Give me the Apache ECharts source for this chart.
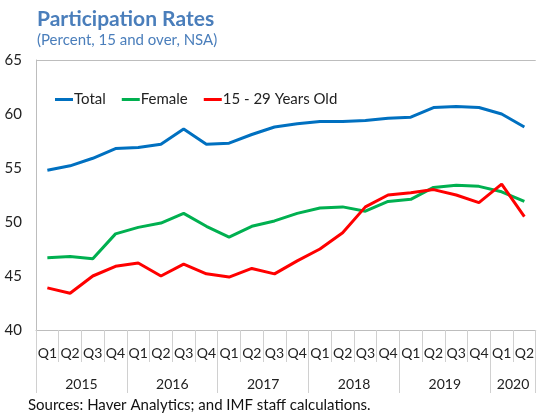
<!DOCTYPE html>
<html><head><meta charset="utf-8">
<script src="https://cdn.jsdelivr.net/npm/echarts@6/dist/echarts.min.js"></script>
<style>html,body{margin:0;padding:0;background:#fff}#c{width:537px;height:413px}</style>
</head><body><div id="c"></div>
<script>
const quarters = ['Q1','Q2','Q3','Q4','Q1','Q2','Q3','Q4','Q1','Q2','Q3','Q4','Q1','Q2','Q3','Q4','Q1','Q2','Q3','Q4','Q1','Q2'];
const years = ['2015','2016','2017','2018','2019','2020'];
const yearSpans = [4,4,4,4,4,2];
const total  = [54.8,55.2,55.9,56.8,56.9,57.2,58.6,57.2,57.3,58.1,58.8,59.1,59.3,59.3,59.4,59.6,59.7,60.6,60.7,60.6,60.0,58.8];
const female = [46.7,46.8,46.6,48.9,49.5,49.9,50.8,49.6,48.6,49.6,50.1,50.8,51.3,51.4,51.0,51.9,52.1,53.2,53.4,53.3,52.8,51.9];
const youth  = [43.9,43.4,45.0,45.9,46.2,45.0,46.1,45.2,44.9,45.7,45.2,46.4,47.5,49.0,51.4,52.5,52.7,53.0,52.5,51.8,53.5,50.5];

// half-quarter grid for the year axis: boundaries and label positions
const halfSlots = [];
const yearBoundary = {0:true};
const yearLabelAt = {};
let pos = 0;
years.forEach((y,i)=>{ yearLabelAt[pos + yearSpans[i]] = y; pos += yearSpans[i]*2; yearBoundary[pos] = true; });
for (let k=0;k<=pos;k++) halfSlots.push(yearLabelAt[k] || '');

const font = 'Lato';
const chart = echarts.init(document.getElementById('c'));
chart.setOption({
  animation:false,
  textStyle:{fontFamily:font},
  title:{text:'Participation Rates', subtext:'(Percent, 15 and over, NSA)', left:32, top:4,
    itemGap:3,
    textStyle:{fontFamily:font,fontSize:21,fontWeight:'bold',color:'#4a7ebb'},
    subtextStyle:{fontFamily:font,fontSize:15,color:'#4a7ebb'}},
  legend:{top:87, left:50, icon:'rect', itemWidth:18, itemHeight:3, itemGap:16,
    textStyle:{fontFamily:font,fontSize:15,color:'#222',padding:[0,0,0,-4]},
    data:['Total','Female','15 - 29 Years Old']},
  grid:{left:36,right:0,top:60,bottom:83},
  xAxis:[
    {type:'category', data:quarters, boundaryGap:true,
     axisLine:{lineStyle:{color:'#bdbdbd'}},
     axisTick:{show:true, interval:0, length:32, lineStyle:{color:'#d0d0d0'}},
     axisLabel:{interval:0, margin:16, fontSize:14, color:'#222', fontFamily:font}},
    {type:'category', data:halfSlots, boundaryGap:false, position:'bottom',
     axisLine:{show:false},
     axisTick:{show:true, length:63, interval:(i)=>!!yearBoundary[i], lineStyle:{color:'#d0d0d0'}},
     axisLabel:{interval:(i,v)=>v!=='', margin:47, fontSize:14, color:'#222', fontFamily:font}}
  ],
  yAxis:{type:'value', min:40, max:65, interval:5,
    axisLine:{show:true, lineStyle:{color:'#bdbdbd'}},
    axisTick:{show:false},
    axisLabel:{margin:14, fontSize:15, color:'#222', fontFamily:font},
    splitLine:{show:true, lineStyle:{color:['none','none','none','none','none','#bdbdbd']}}},
  graphic:[{type:'text', left:28, top:398, style:{text:'Sources: Haver Analytics; and IMF staff calculations.', font:'15px Lato', fill:'#111'}}],
  series:[
    {name:'Total', type:'line', data:total, showSymbol:false, lineStyle:{width:3,color:'#0070c0'}, itemStyle:{color:'#0070c0'}},
    {name:'Female', type:'line', data:female, showSymbol:false, lineStyle:{width:3,color:'#00b050'}, itemStyle:{color:'#00b050'}},
    {name:'15 - 29 Years Old', type:'line', data:youth, showSymbol:false, lineStyle:{width:3,color:'#ff0000'}, itemStyle:{color:'#ff0000'}}
  ]
});
</script></body></html>
